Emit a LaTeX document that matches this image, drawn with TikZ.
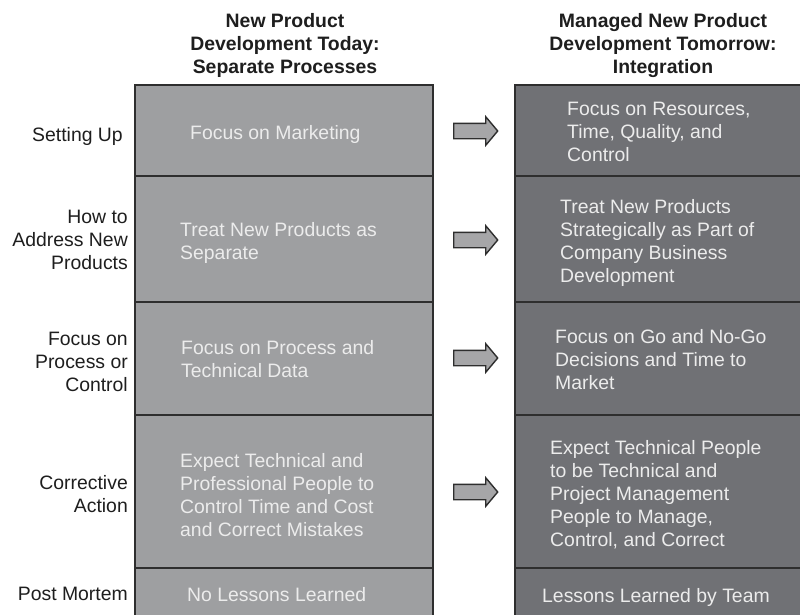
\documentclass[tikz,border=0pt]{standalone}
\usepackage{fontspec}
\setmainfont{Liberation Sans}
\usetikzlibrary{shapes.arrows}
\definecolor{leftfill}{HTML}{9E9FA1}
\definecolor{rightfill}{HTML}{707175}
\definecolor{edge}{HTML}{2E2E2E}
\definecolor{boxtext}{HTML}{ECECEC}
\definecolor{arrowfill}{HTML}{A6A6A8}
\definecolor{labeltext}{HTML}{1E1E1E}
\tikzset{
  basefont/.style={font=\fontsize{19.4}{23}\selectfont},
  leftcell/.style={fill=leftfill, draw=edge, line width=1.5pt},
  rightcell/.style={fill=rightfill, draw=edge, line width=1.5pt},
  celltext/.style={basefont, text=boxtext, anchor=north west, inner sep=0pt, align=left},
  rowlabel/.style={basefont, text=labeltext, anchor=north east, inner sep=0pt, align=right},
  heading/.style={font=\fontsize{19.4}{23.3}\selectfont\bfseries, text=labeltext, anchor=north, inner sep=0pt, align=center},
  goarrow/.style={single arrow, fill=arrowfill, draw=edge, line width=1.4pt,
    minimum height=44pt, inner xsep=0pt, inner ysep=7pt,
    single arrow head extend=6.5pt, single arrow tip angle=100, anchor=tail}
}
\begin{document}
\begin{tikzpicture}[x=1pt,y=-1pt]
\clip (0,0) rectangle (800,614);
\fill[white] (0,0) rectangle (800,614);
% left column cells
\draw[leftcell] (135,85) rectangle (433,176);
\draw[leftcell] (135,176) rectangle (433,302);
\draw[leftcell] (135,302) rectangle (433,415);
\draw[leftcell] (135,415) rectangle (433,568);
\draw[leftcell] (135,568) rectangle (433,630);
% right column cells
\draw[rightcell] (515,85) rectangle (810,176);
\draw[rightcell] (515,176) rectangle (810,302);
\draw[rightcell] (515,302) rectangle (810,415);
\draw[rightcell] (515,415) rectangle (810,568);
\draw[rightcell] (515,568) rectangle (810,630);
% headings
\node[heading] (hl) at (285,13) {New Product\\Development Today:\\Separate Processes};
\node[heading] (hr) at (663,13) {Managed New Product\\Development Tomorrow:\\Integration};
% row labels
\node[rowlabel] (l1) at (123,127) {Setting Up};
\node[rowlabel] (l2) at (128,210) {How to\\Address New\\Products};
\node[rowlabel] (l3) at (128,332) {Focus on\\Process or\\Control};
\node[rowlabel] (l4) at (128,475) {Corrective\\Action};
\node[rowlabel] (l5) at (128,587) {Post Mortem};
% left texts
\node[celltext] (a1) at (190,125) {Focus on Marketing};
\node[celltext] (a2) at (180,222) {Treat New Products as\\Separate};
\node[celltext] (a3) at (181,340) {Focus on Process and\\Technical Data};
\node[celltext] (a4) at (180,453) {Expect Technical and\\Professional People to\\Control Time and Cost\\and Correct Mistakes};
\node[celltext] (a5) at (187,587) {No Lessons Learned};
% right texts
\node[celltext] (b1) at (567,102) {Focus on Resources,\\Time, Quality, and\\Control};
\node[celltext] (b2) at (560,199) {Treat New Products\\Strategically as Part of\\Company Business\\Development};
\node[celltext] (b3) at (555,329) {Focus on Go and No-Go\\Decisions and Time to\\Market};
\node[celltext] (b4) at (550,440) {Expect Technical People\\to be Technical and\\Project Management\\People to Manage,\\Control, and Correct};
\node[celltext] (b5) at (542,588) {Lessons Learned by Team};
% arrows
\node[goarrow] (r1) at (453,131) {};
\node[goarrow] (r2) at (453,240) {};
\node[goarrow] (r3) at (453,358) {};
\node[goarrow] (r4) at (453,492) {};
\end{tikzpicture}
\end{document}
